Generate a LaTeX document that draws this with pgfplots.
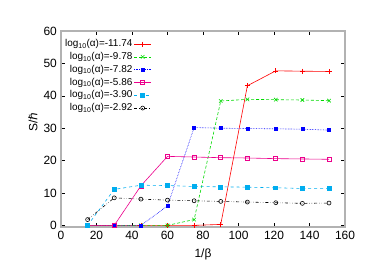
\documentclass[border=0pt]{standalone}
\usepackage{pgfplots}
\pgfplotsset{compat=1.18}
\usepackage{fontspec}
\setmainfont{Liberation Sans}
\newfontfamily\djv{DejaVu Sans}
\begin{document}
\fontsize{12}{14}\selectfont
\begin{tikzpicture}
\begin{axis}[
  scale only axis,
  width=284bp, height=196bp,
  xmin=0, xmax=160, ymin=-0.5, ymax=60,
  xtick={0,20,...,160}, ytick={0,10,...,60},
  /pgf/number format/assume math mode=true,
  tick label style={font=\fontsize{12}{14}\selectfont},
  label style={font=\fontsize{12}{14}\selectfont},
  axis line style={draw=gray!60, line width=1.3pt},
  tick style={black, line width=0.5pt},
  major tick length=4bp,
  tick align=inside,
  xlabel={1/β},
  ylabel={S/{\djv ℏ}},
  ylabel style={at={(axis description cs:-0.068,0.535)}, anchor=south},
  xlabel style={yshift=-1bp},
  legend plot pos=right,
  legend cell align=right,
  legend style={draw=none, fill=none, at={(0.005,0.97)}, anchor=north west,
    font=\fontsize{10}{12}\selectfont, row sep=0.8pt, inner sep=1pt},
  every axis legend/.append style={nodes={inner sep=1.5pt}},
]
\addplot[red, line width=0.6pt, mark=+, mark size=2.5pt] coordinates {
(15,0) (30,0) (45,0) (60,0) (75,0) (90,0.3) (105,43.1) (121,47.7) (136,47.6) (151,47.5)};
\addlegendentry{log\textsubscript{10}(α)=-11.74}
\addplot[green!85!black, densely dashed, line width=0.6pt, mark=x, mark size=2.5pt, mark options={solid}] coordinates {
(15,0) (30,0) (45,0) (60,0) (75,1.8) (90,38.4) (105,38.9) (121,38.8) (136,38.7) (151,38.5)};
\addlegendentry{log\textsubscript{10}(α)=-9.78}
\addplot[blue, densely dotted, line width=0.6pt, mark=square*, mark size=1.5pt, mark options={solid}] coordinates {
(15,0) (30,0) (45,0) (60,6.0) (75,30.2) (90,30.0) (105,29.9) (121,29.8) (136,29.7) (151,29.4)};
\addlegendentry{log\textsubscript{10}(α)=-7.82}
\addplot[magenta, line width=0.6pt, mark=square, mark size=2pt] coordinates {
(15,0) (30,0) (45,12.2) (60,21.3) (75,21.1) (90,20.9) (105,20.8) (121,20.6) (136,20.5) (151,20.4)};
\addlegendentry{log\textsubscript{10}(α)=-5.86}
\addplot[cyan, dashed, line width=0.6pt, mark=square*, mark size=2pt, mark options={solid}] coordinates {
(15,0) (30,11.1) (45,12.4) (60,12.3) (75,12.0) (90,11.9) (105,11.8) (121,11.6) (136,11.4) (151,11.4)};
\addlegendentry{log\textsubscript{10}(α)=-3.90}
\addplot[black, dash dot dot, line width=0.6pt, mark=o, mark size=2pt, mark options={solid}] coordinates {
(15,1.8) (30,8.5) (45,8.1) (60,7.8) (75,7.6) (90,7.4) (105,7.2) (121,7.0) (136,6.8) (151,6.9)};
\addlegendentry{log\textsubscript{10}(α)=-2.92}
\end{axis}
\path ([shift={(-61bp,-48bp)}]current axis.south west) rectangle ([shift={(44bp,31bp)}]current axis.north east);
\end{tikzpicture}
\end{document}
